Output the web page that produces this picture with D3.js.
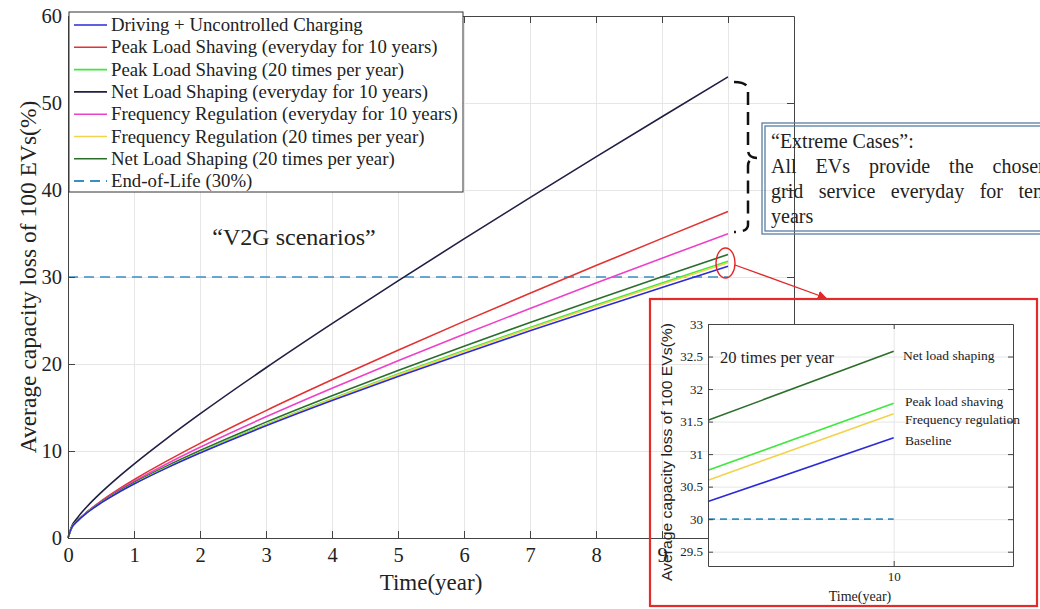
<!DOCTYPE html>
<html>
<head>
<meta charset="utf-8">
<script src="https://cdn.jsdelivr.net/npm/d3@7"></script>
<style>
body { margin: 0; background: #fff; }
svg text { font-family: "Liberation Serif", "Times New Roman", serif; fill: #222; }
.line { fill: none; stroke-width: 1.6; }
</style>
</head>
<body>
<div id="vis1"></div>
<script>
// capacity loss (%)
var years = [0, 0.05, 0.15, 0.3, 0.5, 0.75, 1, 1.5, 2, 3, 4, 5, 6, 7, 8, 9, 10];
var uncontrolled = [0, 1.09, 2.0, 2.97, 4.03, 5.17, 6.2, 8.06, 9.76, 12.89, 15.8, 18.56, 21.22, 23.81, 26.33, 28.8, 31.23];
var peakEveryday = [0, 1.08, 2.03, 3.08, 4.24, 5.53, 6.7, 8.86, 10.88, 14.64, 18.18, 21.59, 24.9, 28.13, 31.31, 34.44, 37.53];
var peak20 = [0, 1.09, 2.0, 2.99, 4.06, 5.21, 6.25, 8.14, 9.87, 13.06, 16.02, 18.84, 21.56, 24.2, 26.78, 29.31, 31.8];
var netEveryday = [0, 1.24, 2.39, 3.71, 5.22, 6.92, 8.5, 11.46, 14.26, 19.57, 24.64, 29.56, 34.38, 39.12, 43.8, 48.42, 53.0];
var freqEveryday = [0, 1.09, 2.02, 3.04, 4.16, 5.39, 6.5, 8.54, 10.43, 13.93, 17.22, 20.37, 23.41, 26.39, 29.3, 32.16, 34.98];
var freq20 = [0, 1.09, 1.99, 2.97, 4.04, 5.18, 6.22, 8.1, 9.82, 12.99, 15.94, 18.75, 21.45, 24.08, 26.64, 29.16, 31.64];
var net20 = [0, 1.1, 2.03, 3.02, 4.11, 5.29, 6.35, 8.28, 10.05, 13.32, 16.36, 19.26, 22.05, 24.77, 27.42, 30.03, 32.59];
var eolYears = [0, 10];
var eolLoss = [30, 30];

var seriesNames = [
    "Driving + Uncontrolled Charging",
    "Peak Load Shaving (everyday for 10 years)",
    "Peak Load Shaving (20 times per year)",
    "Net Load Shaping (everyday for 10 years)",
    "Frequency Regulation (everyday for 10 years)",
    "Frequency Regulation (20 times per year)",
    "Net Load Shaping (20 times per year)"
];
var seriesValues = [uncontrolled, peakEveryday, peak20, netEveryday, freqEveryday, freq20, net20];
var seriesColors = ["#2a2ad8", "#e23232", "#3ee83e", "#1f1f42", "#ee40c8", "#f3d24c", "#2b6e2b"];
var eolName = "End-of-Life (30%)";
var eolColor = "#3a8fc2";

var xTicks = [0, 1, 2, 3, 4, 5, 6, 7, 8, 9];
var xGrid = [1, 2, 3, 4, 5, 6, 7, 8, 9, 10];
var yTicks = [0, 10, 20, 30, 40, 50, 60];

// zoomed inset (20 times per year)
var insetYears = [9.6, 10];
var insetNet20 = [31.52, 32.58];
var insetPeak20 = [30.75, 31.78];
var insetFreq20 = [30.6, 31.62];
var insetUncontrolled = [30.27, 31.25];
var insetEol = [30, 30];
var insetYTicks = [29.5, 30, 30.5, 31, 31.5, 32, 32.5, 33];
var insetXTicks = [10];

var svg = d3.select("#vis1").append("svg")
    .attr("width", 1040)
    .attr("height", 609);

var plotLeft = 68, plotRight = 794, plotTop = 16, plotBottom = 538;

var xScale = d3.scaleLinear().domain([0, 11]).range([plotLeft, plotRight]);
var yScale = d3.scaleLinear().domain([0, 60]).range([plotBottom, plotTop]);

// grid
svg.append("g")
    .attr("transform", "translate(0," + plotBottom + ")")
    .call(d3.axisBottom(xScale).tickValues(xGrid).tickSize(-(plotBottom - plotTop)).tickFormat(""))
    .call(function(g){ g.select(".domain").remove(); })
    .selectAll("line").attr("stroke", "#e6e6e6");
svg.append("g")
    .attr("transform", "translate(" + plotLeft + ",0)")
    .call(d3.axisLeft(yScale).tickValues(yTicks.slice(1, 6)).tickSize(-(plotRight - plotLeft)).tickFormat(""))
    .call(function(g){ g.select(".domain").remove(); })
    .selectAll("line").attr("stroke", "#e6e6e6");

var line = d3.line()
    .x(function(d){ return xScale(d[0]); })
    .y(function(d){ return yScale(d[1]); })
    .curve(d3.curveMonotoneX);

// end of life
svg.append("path")
    .datum(d3.zip(eolYears, eolLoss))
    .attr("class", "line")
    .attr("stroke", eolColor)
    .attr("stroke-width", 2)
    .attr("stroke-dasharray", "10,6")
    .attr("d", line);

// curves
var drawOrder = [3, 1, 4, 6, 2, 5, 0];
drawOrder.forEach(function(i){
    svg.append("path")
        .datum(d3.zip(years, seriesValues[i]))
        .attr("class", "line")
        .attr("stroke", seriesColors[i])
        .attr("d", line);
});

// axes (inward ticks like matlab)
function styleAxis(g){
    g.select(".domain").attr("stroke", "#444");
    g.selectAll(".tick line").attr("stroke", "#444");
    g.selectAll("text").style("font-size", "20.5px").attr("fill", "#222");
}
svg.append("g")
    .attr("transform", "translate(0," + plotBottom + ")")
    .call(d3.axisBottom(xScale).tickValues(xTicks).tickSizeInner(-7).tickSizeOuter(0).tickPadding(9))
    .call(styleAxis);
svg.append("g")
    .attr("transform", "translate(" + plotLeft + ",0)")
    .call(d3.axisLeft(yScale).tickValues(yTicks).tickSizeInner(-7).tickSizeOuter(0).tickPadding(6))
    .call(styleAxis);
svg.append("g")
    .attr("transform", "translate(0," + plotTop + ")")
    .call(d3.axisTop(xScale).tickValues(xGrid).tickSizeInner(-7).tickSizeOuter(0).tickFormat(""))
    .call(styleAxis);
svg.append("g")
    .attr("transform", "translate(" + plotRight + ",0)")
    .call(d3.axisRight(yScale).tickValues(yTicks).tickSizeInner(-7).tickSizeOuter(0).tickFormat(""))
    .call(styleAxis);

svg.append("text")
    .attr("x", 431)
    .attr("y", 590)
    .attr("text-anchor", "middle")
    .style("font-size", "23px")
    .text("Time(year)");

svg.append("text")
    .attr("transform", "translate(36,277) rotate(-90)")
    .attr("text-anchor", "middle")
    .style("font-size", "23.5px")
    .text("Average capacity loss of 100 EVs(%)");

// legend
var legend = svg.append("g");
legend.append("rect")
    .attr("x", 69).attr("y", 12)
    .attr("width", 394).attr("height", 180)
    .attr("fill", "#fff")
    .attr("stroke", "#333");
var legendNames = seriesNames.concat([eolName]);
var legendColors = seriesColors.concat([eolColor]);
legendNames.forEach(function(name, i){
    var ly = 25 + i * 22.3;
    legend.append("line")
        .attr("x1", 74).attr("x2", 107)
        .attr("y1", ly).attr("y2", ly)
        .attr("stroke", legendColors[i])
        .attr("stroke-width", i == 7 ? 2 : 1.6)
        .attr("stroke-dasharray", i == 7 ? "10,6" : null);
    legend.append("text")
        .attr("x", 111).attr("y", ly + 6)
        .style("font-size", "18.8px")
        .text(name);
});

svg.append("text")
    .attr("x", 294).attr("y", 245)
    .attr("text-anchor", "middle")
    .style("font-size", "24px")
    .text("\u201CV2G scenarios\u201D");

// dashed bracket
svg.append("path")
    .attr("d", "M734,82 Q748,82 748,90 L748,150 Q748,158 757,158 Q748,158 748,166 L748,225 Q748,232 734,232")
    .attr("fill", "none")
    .attr("stroke", "#111")
    .attr("stroke-width", 2.5)
    .attr("stroke-dasharray", "13,7");

// annotation box (double border, no fill)
svg.append("rect")
    .attr("x", 762).attr("y", 123).attr("width", 300).attr("height", 111)
    .attr("fill", "none").attr("stroke", "#5a7fa2").attr("stroke-width", 1.3);
svg.append("rect")
    .attr("x", 765).attr("y", 126).attr("width", 300).attr("height", 105)
    .attr("fill", "none").attr("stroke", "#5a7fa2").attr("stroke-width", 1.3);
var noteLines = ["\u201CExtreme Cases\u201D:", "All EVs provide the chosen", "grid service everyday for ten", "years"];
var noteSpacing = [0, 14, 10.5, 0];
noteLines.forEach(function(t, i){
    svg.append("text")
        .attr("x", 771).attr("y", 148 + i * 25)
        .style("font-size", "20px")
        .style("word-spacing", noteSpacing[i] + "px")
        .text(t);
});

// ellipse and arrow to inset
svg.append("ellipse")
    .attr("cx", 725.5).attr("cy", 263).attr("rx", 9.5).attr("ry", 15)
    .attr("fill", "none").attr("stroke", "#e02828").attr("stroke-width", 1.4);
svg.append("defs").append("marker")
    .attr("id", "arrow").attr("viewBox", "0 0 10 10")
    .attr("refX", 9).attr("refY", 5)
    .attr("markerWidth", 7).attr("markerHeight", 7)
    .attr("orient", "auto")
    .append("path").attr("d", "M0,0 L10,5 L0,10 z").attr("fill", "#e02828");
svg.append("line")
    .attr("x1", 735).attr("y1", 265).attr("x2", 826).attr("y2", 298)
    .attr("stroke", "#e02828").attr("stroke-width", 1.3)
    .attr("marker-end", "url(#arrow)");

// inset
var ix = d3.scaleLinear().domain([9.6, 10.257]).range([708, 1013]);
var iy = d3.scaleLinear().domain([29.28, 33]).range([566, 324]);

var inset = svg.append("g");
inset.append("rect")
    .attr("x", 708).attr("y", 324).attr("width", 305).attr("height", 242)
    .attr("fill", "#fff");
inset.append("g")
    .attr("transform", "translate(708,0)")
    .call(d3.axisLeft(iy).tickValues(insetYTicks).tickSize(-305).tickFormat(""))
    .call(function(g){ g.select(".domain").remove(); })
    .selectAll("line").attr("stroke", "#e6e6e6");
inset.append("g")
    .attr("transform", "translate(0,566)")
    .call(d3.axisBottom(ix).tickValues(insetXTicks).tickSize(-242).tickFormat(""))
    .call(function(g){ g.select(".domain").remove(); })
    .selectAll("line").attr("stroke", "#e6e6e6");

var iline = d3.line()
    .x(function(d){ return ix(d[0]); })
    .y(function(d){ return iy(d[1]); });

inset.append("path")
    .datum(d3.zip(insetYears, insetEol))
    .attr("class", "line").attr("stroke", eolColor)
    .attr("stroke-width", 1.6).attr("stroke-dasharray", "7,5")
    .attr("d", iline);
var insetSeries = [insetNet20, insetPeak20, insetFreq20, insetUncontrolled];
var insetColors = [seriesColors[6], seriesColors[2], seriesColors[5], seriesColors[0]];
insetSeries.forEach(function(s, i){
    inset.append("path")
        .datum(d3.zip(insetYears, s))
        .attr("class", "line").attr("stroke", insetColors[i])
        .attr("stroke-width", 1.4)
        .attr("d", iline);
});

function styleInset(g){
    g.select(".domain").attr("stroke", "#444");
    g.selectAll(".tick line").attr("stroke", "#444");
    g.selectAll("text").style("font-size", "13px").attr("fill", "#333");
}
var plainNum = function(d){ return String(d); };
inset.append("g")
    .attr("transform", "translate(0,566)")
    .call(d3.axisBottom(ix).tickValues(insetXTicks).tickFormat(plainNum).tickSizeInner(-5).tickSizeOuter(0).tickPadding(6))
    .call(styleInset);
inset.append("g")
    .attr("transform", "translate(708,0)")
    .call(d3.axisLeft(iy).tickValues(insetYTicks).tickFormat(plainNum).tickSizeInner(-5).tickSizeOuter(0).tickPadding(5))
    .call(styleInset);
inset.append("g")
    .attr("transform", "translate(0,324)")
    .call(d3.axisTop(ix).tickValues(insetXTicks).tickSizeInner(-5).tickSizeOuter(0).tickFormat(""))
    .call(styleInset);
inset.append("g")
    .attr("transform", "translate(1013,0)")
    .call(d3.axisRight(iy).tickValues(insetYTicks).tickSizeInner(-5).tickSizeOuter(0).tickFormat(""))
    .call(styleInset);

inset.append("text")
    .attr("x", 860).attr("y", 601)
    .attr("text-anchor", "middle")
    .style("font-size", "14px")
    .text("Time(year)");
inset.append("text")
    .attr("transform", "translate(672,452) rotate(-90)")
    .attr("text-anchor", "middle")
    .attr("textLength", 258)
    .attr("lengthAdjust", "spacingAndGlyphs")
    .style("font-family", "'Liberation Sans', Arial, sans-serif")
    .style("font-size", "14px")
    .text("Average capacity loss of 100 EVs(%)");

inset.append("text")
    .attr("x", 720).attr("y", 363)
    .style("font-size", "16.5px")
    .text("20 times per year");
var insetNames = ["Net load shaping", "Peak load shaving", "Frequency regulation", "Baseline"];
var insetNameY = [360, 406, 424, 445];
insetNames.forEach(function(n, i){
    inset.append("text")
        .attr("x", i == 0 ? 903 : 905).attr("y", insetNameY[i])
        .style("font-size", "13.5px")
        .text(n);
});

// red frame around inset
svg.append("rect")
    .attr("x", 650).attr("y", 299).attr("width", 387).attr("height", 307)
    .attr("fill", "none")
    .attr("stroke", "#e52a2a")
    .attr("stroke-width", 2.2);
</script>
</body>
</html>
